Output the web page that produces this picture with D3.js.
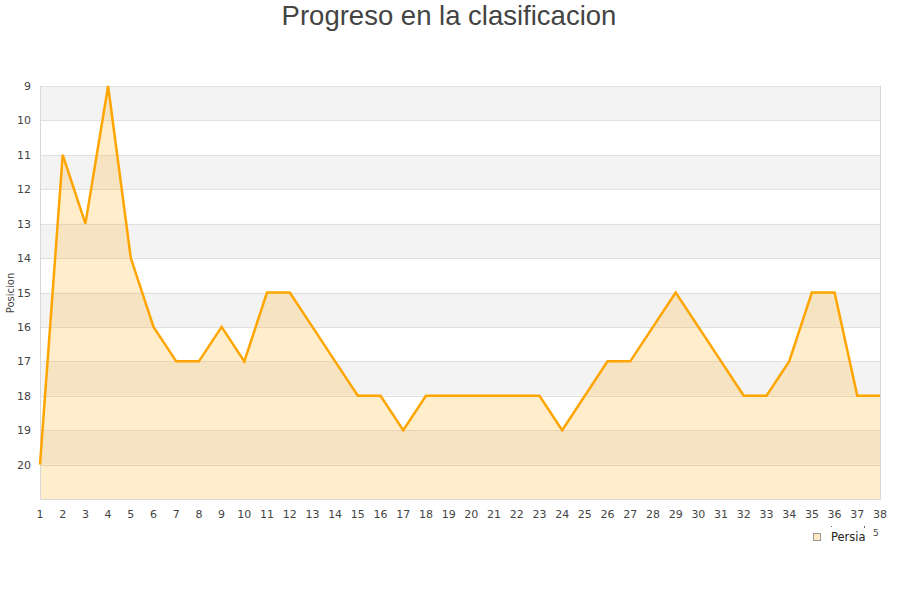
<!DOCTYPE html>
<html><head><meta charset="utf-8">
<script src="https://cdn.jsdelivr.net/npm/d3@7/dist/d3.min.js"></script>
<style>body{margin:0;background:#fff}svg{display:block;font-family:"DejaVu Sans",sans-serif}</style>
</head><body><svg id="c" width="900" height="600"></svg>
<script>
const jornadas = d3.range(1, 39);
const posiciones = [20,11,13,9,14,16,17,17,16,17,15,15,16,17,18,18,19,18,18,18,18,18,18,19,18,17,17,16,15,16,17,18,18,17,15,15,18,18];
const yTicks = [9,10,11,12,13,14,15,16,17,18,19,20];
const serieNombre = "Persia";
const titulo = "Progreso en la clasificacion";
const yTitulo = "Posicion";

const svg = d3.select("#c");
const L = 40, R = 880, T = 86, B = 499;
const x = d3.scaleLinear().domain([1, 38]).range([L, R]);
const y = d3.scaleLinear().domain([9, 21]).range([T, B]);

const bands = d3.range(9, 21);
svg.selectAll("rect.band").data(bands).enter().append("rect")
  .attr("x", L).attr("width", R - L)
  .attr("y", d => y(d)).attr("height", d => y(d + 1) - y(d))
  .attr("fill", (d, i) => i % 2 === 0 ? "#f3f3f3" : "#ffffff");
svg.selectAll("line.grid").data(d3.range(9, 22)).enter().append("line")
  .attr("x1", L).attr("x2", R)
  .attr("y1", d => Math.round(y(d)) + 0.5).attr("y2", d => Math.round(y(d)) + 0.5)
  .attr("stroke", "#e0e0e0").attr("stroke-width", 1);

const data = jornadas.map((j, i) => ({ j, p: posiciones[i] }));
svg.append("path").datum(data)
  .attr("d", d3.area().x(d => x(d.j)).y0(y(21)).y1(d => y(d.p)))
  .attr("fill", "#ffa500").attr("fill-opacity", 0.2);
svg.append("path").attr("d", `M${L+0.5},${T}V${B+0.5}H${R+0.5}V${T}`)
  .attr("fill", "none").attr("stroke", "#d8d8d8").attr("stroke-width", 1);
svg.append("path").datum(data)
  .attr("d", d3.line().x(d => x(d.j)).y(d => y(d.p)))
  .attr("fill", "none").attr("stroke", "#ffa500").attr("stroke-width", 2.5)
  .attr("stroke-linejoin", "miter");

svg.selectAll("text.yl").data(yTicks).enter().append("text")
  .attr("x", 31).attr("y", d => y(d) + 4)
  .attr("text-anchor", "end").attr("font-size", 11).attr("fill", "#444")
  .text(d => d);
svg.selectAll("text.xl").data(jornadas).enter().append("text")
  .attr("x", d => x(d)).attr("y", 518)
  .attr("text-anchor", "middle").attr("font-size", 11).attr("fill", "#444")
  .text(d => d);

svg.append("text").attr("x", 449).attr("y", 25).attr("text-anchor", "middle")
  .attr("font-family", "'Liberation Sans', Arial, sans-serif")
  .attr("font-size", 27.5).attr("fill", "#444").text(titulo);
svg.append("text").attr("transform", "translate(14,293) rotate(-90)")
  .attr("text-anchor", "middle").attr("font-size", 10).attr("fill", "#444").text(yTitulo);

svg.append("rect").attr("x", 813.5).attr("y", 533.5).attr("width", 7).attr("height", 7)
  .attr("fill", "#ffe9c2").attr("stroke", "#999");
svg.append("text").attr("x", 831).attr("y", 541).attr("font-size", 11.5).attr("fill", "#222").text(serieNombre);
svg.append("text").attr("x", 873).attr("y", 536).attr("font-size", 9).attr("fill", "#444").text("5");
svg.append("rect").attr("x", 831).attr("y", 526).attr("width", 1).attr("height", 1).attr("fill", "#666");
svg.append("rect").attr("x", 864).attr("y", 526).attr("width", 1).attr("height", 2).attr("fill", "#666");
</script></body></html>
